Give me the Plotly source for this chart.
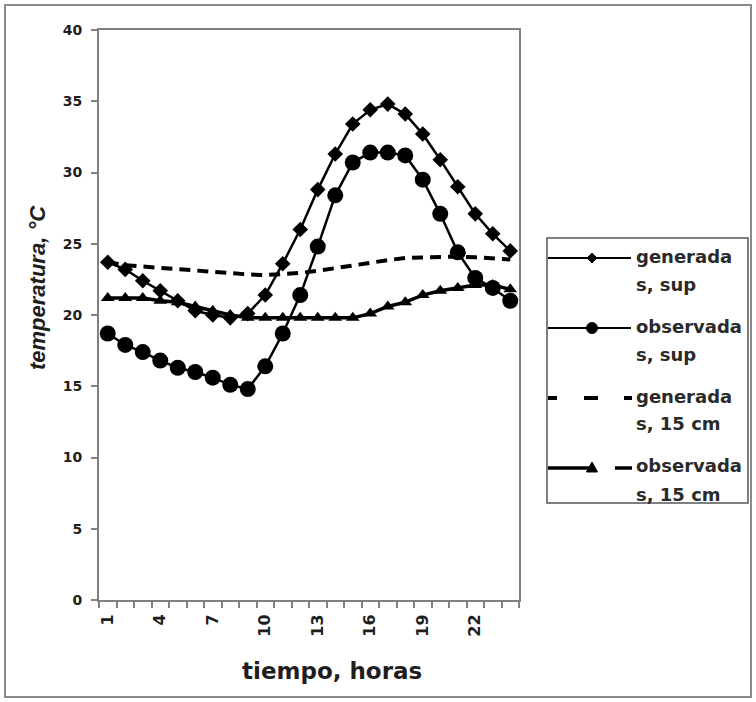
import plotly.graph_objects as go

# ---------------- data ----------------
horas = list(range(1, 25))
tick_labels = [1, 4, 7, 10, 13, 16, 19, 22]

generada_sup = [23.7, 23.2, 22.4, 21.7, 21.0, 20.3, 20.0, 19.8, 20.1, 21.4, 23.6, 26.0,
                28.8, 31.3, 33.4, 34.4, 34.8, 34.1, 32.7, 30.9, 29.0, 27.1, 25.7, 24.5]
observada_sup = [18.7, 17.9, 17.4, 16.8, 16.3, 16.0, 15.6, 15.1, 14.8, 16.4, 18.7, 21.4,
                 24.8, 28.4, 30.7, 31.4, 31.4, 31.2, 29.5, 27.1, 24.4, 22.6, 21.9, 21.0]
generada_15 = [23.7, 23.5, 23.4, 23.3, 23.2, 23.1, 23.0, 22.9, 22.85, 22.8, 22.85, 22.95,
               23.1, 23.3, 23.5, 23.7, 23.85, 24.0, 24.05, 24.1, 24.1, 24.05, 24.0, 23.9]
observada_15 = [21.2, 21.2, 21.2, 21.0, 20.9, 20.6, 20.3, 20.0, 19.8, 19.8, 19.8, 19.8,
                19.8, 19.8, 19.8, 20.1, 20.6, 20.9, 21.4, 21.7, 21.9, 22.1, 22.1, 21.8]

legend_lines = [("generada", "s, sup"), ("observada", "s, sup"),
                ("generada", "s, 15 cm"), ("observada", "s, 15 cm")]

# ---------------- layout constants ----------------
W, H = 756, 702
L, R, T, B = 99, 519, 30, 600
AX = "#808080"
TXT = "#1e1e1e"


def px(p):
    return (p - L) / (R - L)


def py(p):
    return (B - p) / (B - T)


fig = go.Figure()

fig.add_trace(go.Scatter(x=horas, y=generada_15, mode="lines",
                         line=dict(color="black", width=4, dash="11px,7px"),
                         showlegend=False))
fig.add_trace(go.Scatter(x=horas, y=observada_15, mode="lines+markers",
                         line=dict(color="black", width=3.5),
                         marker=dict(symbol="triangle-up", size=12, color="black"),
                         showlegend=False))
fig.add_trace(go.Scatter(x=horas, y=observada_sup, mode="lines+markers",
                         line=dict(color="black", width=2.5),
                         marker=dict(symbol="circle", size=16, color="black"),
                         showlegend=False))
fig.add_trace(go.Scatter(x=horas, y=generada_sup, mode="lines+markers",
                         line=dict(color="black", width=2.5),
                         marker=dict(symbol="diamond", size=12, color="black"),
                         showlegend=False))

shapes = []
annotations = []

# outer border
shapes.append(dict(type="rect", xref="paper", yref="paper",
                   x0=px(5), x1=px(751), y0=py(5), y1=py(697),
                   line=dict(color="#8a8a8a", width=2), layer="below"))

# legend box
shapes.append(dict(type="rect", xref="paper", yref="paper",
                   x0=px(547), x1=px(748), y0=py(238), y1=py(503),
                   line=dict(color="#555555", width=1.5)))

ly = [258, 328, 398, 468]
sx0, sx1, mx = 548, 631, 592
# entry 1: solid + diamond
shapes.append(dict(type="line", xref="paper", yref="paper",
                   x0=px(sx0), x1=px(sx1), y0=py(ly[0]), y1=py(ly[0]),
                   line=dict(color="black", width=2)))
d = 5
shapes.append(dict(type="path", xref="paper", yref="paper",
                   path=f"M {px(mx-d)} {py(ly[0])} L {px(mx)} {py(ly[0]-d)} L {px(mx+d)} {py(ly[0])} L {px(mx)} {py(ly[0]+d)} Z",
                   fillcolor="black", line=dict(color="black", width=1)))
# entry 2: solid + circle
shapes.append(dict(type="line", xref="paper", yref="paper",
                   x0=px(sx0), x1=px(sx1), y0=py(ly[1]), y1=py(ly[1]),
                   line=dict(color="black", width=2)))
c = 5.5
shapes.append(dict(type="circle", xref="paper", yref="paper",
                   x0=px(mx-c), x1=px(mx+c), y0=py(ly[1]-c), y1=py(ly[1]+c),
                   fillcolor="black", line=dict(color="black", width=1)))
# entry 3: dashed
for a, b in [(548, 557), (584, 598), (624, 632)]:
    shapes.append(dict(type="line", xref="paper", yref="paper",
                       x0=px(a), x1=px(b), y0=py(ly[2]), y1=py(ly[2]),
                       line=dict(color="black", width=4)))
# entry 4: solid thick + triangle + dash
shapes.append(dict(type="line", xref="paper", yref="paper",
                   x0=px(548), x1=px(592), y0=py(ly[3]), y1=py(ly[3]),
                   line=dict(color="black", width=3.5)))
shapes.append(dict(type="line", xref="paper", yref="paper",
                   x0=px(615), x1=px(632), y0=py(ly[3]), y1=py(ly[3]),
                   line=dict(color="black", width=3.5)))
t = 5.5
shapes.append(dict(type="path", xref="paper", yref="paper",
                   path=f"M {px(mx-t)} {py(ly[3]+4)} L {px(mx)} {py(ly[3]-6)} L {px(mx+t)} {py(ly[3]+4)} Z",
                   fillcolor="black", line=dict(color="black", width=1)))

for (l1, l2), yy in zip(legend_lines, ly):
    for txt, dy in [(l1, -2), (l2, 26)]:
        annotations.append(dict(text=txt, xref="paper", yref="paper",
                                x=px(634), y=py(yy + dy), xanchor="left", yanchor="middle",
                                showarrow=False,
                                font=dict(family="DejaVu Sans", size=18, color="#2a2a2a",
                                          weight="bold")))

# axis titles
annotations.append(dict(text="tiempo, horas", xref="paper", yref="paper",
                        x=px(332), y=py(671), xanchor="center", yanchor="middle",
                        showarrow=False,
                        font=dict(family="DejaVu Sans", size=23, color=TXT, weight="bold")))
annotations.append(dict(text="<i>temperatura, °C</i>", xref="paper", yref="paper",
                        x=px(37), y=py(288), xanchor="center", yanchor="middle",
                        textangle=-90, showarrow=False,
                        font=dict(family="Liberation Sans", size=22, color=TXT, weight="bold")))

fig.update_layout(
    width=W, height=H,
    margin=dict(l=L, r=W - R, t=T, b=H - B),
    paper_bgcolor="white", plot_bgcolor="white",
    showlegend=False,
    shapes=shapes, annotations=annotations,
    xaxis=dict(range=[0.5, 24.5], tickmode="array", tickvals=tick_labels,
               ticktext=[str(v) for v in tick_labels], tickangle=-90,
               ticks="outside", ticklen=6, tickcolor="rgba(0,0,0,0)",
               minor=dict(tick0=0.5, dtick=1, ticks="outside", ticklen=6,
                          tickcolor=AX, tickwidth=1.5, showgrid=False),
               showline=True, linecolor=AX, linewidth=2, mirror=True,
               showgrid=False, zeroline=False,
               tickfont=dict(family="DejaVu Sans", size=16, color=TXT, weight="bold")),
    yaxis=dict(range=[0, 40], dtick=5, ticks="outside", ticklen=6, tickcolor=AX,
               tickwidth=1.5, showline=True, linecolor=AX, linewidth=2, mirror=True,
               showgrid=False, zeroline=False, ticklabelstandoff=6,
               tickfont=dict(family="DejaVu Sans", size=14, color=TXT, weight="bold")),
)

fig.write_html("out.html")
